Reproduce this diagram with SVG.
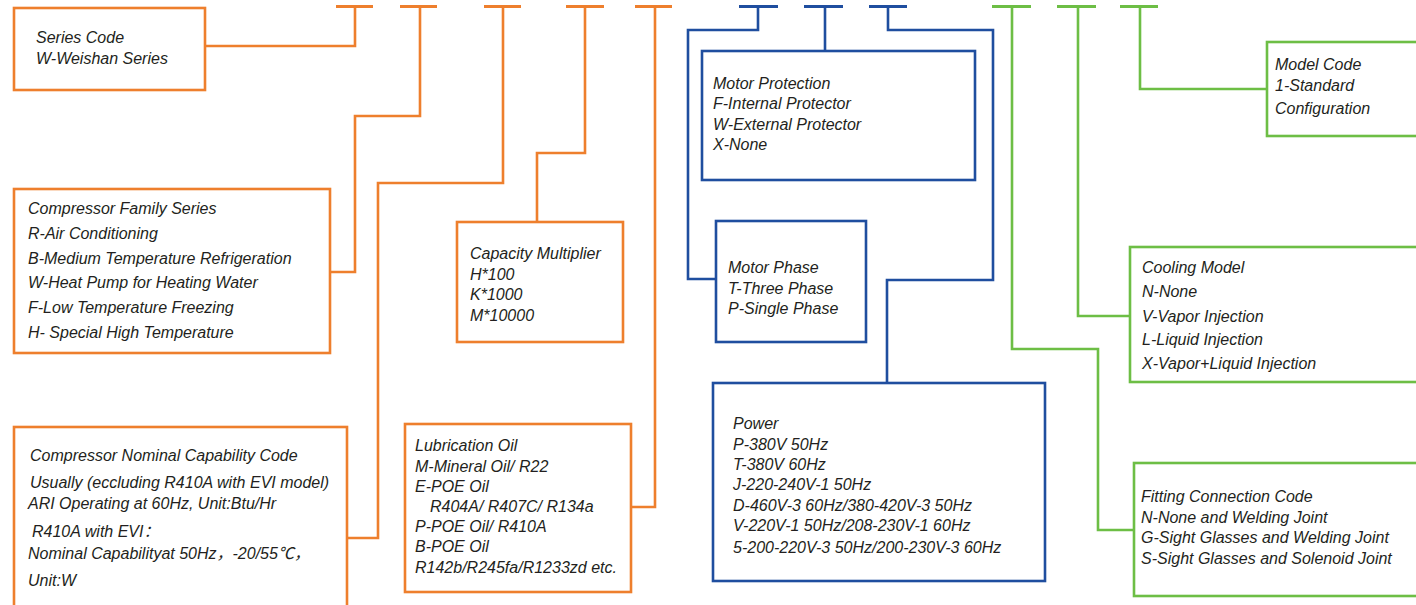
<svg xmlns="http://www.w3.org/2000/svg" width="1416" height="605" viewBox="0 0 1416 605">
<style>
.bg{fill:#ffffff}
.o{stroke:#EE7F2D}
.b{stroke:#1F4E9F}
.g{stroke:#6DBE45}
.box{fill:#ffffff;stroke-width:2.6}
.ln{fill:none;stroke-width:2.6;stroke-linejoin:miter}
.tk{fill:none;stroke-width:3}
text{font-family:"Liberation Sans",Arial,"Noto Sans CJK SC",sans-serif;font-style:italic;font-size:16px;fill:#231F20}
</style>
<rect class="bg" x="0" y="0" width="1416" height="605"/>
<g id="connectors">
  <path class="tk o" d="M336,6.5H373M400,6.5H437M484,6.5H521M566,6.5H604M635,6.5H672"/>
  <path class="tk b" d="M739,6.5H778M804,6.5H843M869,6.5H907"/>
  <path class="tk g" d="M992,6.5H1031M1057,6.5H1096M1120,6.5H1158"/>
  <path class="ln o" d="M205,46H355V6.5"/>
  <path class="ln o" d="M420,6.5V116H355V272H330"/>
  <path class="ln o" d="M503,6.5V183H378V538H347"/>
  <path class="ln o" d="M585,6.5V153H537V221"/>
  <path class="ln o" d="M655,6.5V507H631"/>
  <path class="ln b" d="M758,6.5V30H688V279H716"/>
  <path class="ln b" d="M825,6.5V51"/>
  <path class="ln b" d="M888,6.5V30H993V280H887V383"/>
  <path class="ln g" d="M1012,6.5V349H1098V530H1134"/>
  <path class="ln g" d="M1078,6.5V316H1130"/>
  <path class="ln g" d="M1140,6.5V89H1267"/>
</g>
<g id="series-code">
  <rect class="box o" x="14" y="8" width="191" height="82"/>
  <text x="36" y="42.5">Series Code</text>
  <text x="36" y="63.5">W-Weishan Series</text>
</g>
<g id="compressor-family">
  <rect class="box o" x="14" y="189" width="316" height="164"/>
  <text x="28" y="213.5">Compressor Family Series</text>
  <text x="28" y="238.5">R-Air Conditioning</text>
  <text x="28" y="263.5">B-Medium Temperature Refrigeration</text>
  <text x="28" y="287.5">W-Heat Pump for Heating Water</text>
  <text x="28" y="312.5">F-Low Temperature Freezing</text>
  <text x="28" y="337.5">H- Special High Temperature</text>
</g>
<g id="nominal-capability">
  <rect class="box o" x="14" y="427" width="333" height="190"/>
  <text x="30" y="460.5">Compressor Nominal Capability Code</text>
  <text x="30" y="487.5">Usually (eccluding R410A with EVI model)</text>
  <text x="28" y="508.5">ARI Operating at 60Hz, Unit:Btu/Hr</text>
  <text x="32" y="536.5">R410A with EVI：</text>
  <text x="28" y="558.5">Nominal Capabilityat 50Hz，-20/55℃，</text>
  <text x="28" y="585.5">Unit:W</text>
</g>
<g id="capacity-multiplier">
  <rect class="box o" x="457" y="222" width="166" height="120"/>
  <text x="470" y="258.5">Capacity Multiplier</text>
  <text x="470" y="279.5">H*100</text>
  <text x="470" y="299.5">K*1000</text>
  <text x="470" y="320.5">M*10000</text>
</g>
<g id="lubrication-oil">
  <rect class="box o" x="405" y="424" width="226" height="168"/>
  <text x="415" y="450.5">Lubrication Oil</text>
  <text x="415" y="471.5">M-Mineral Oil/ R22</text>
  <text x="415" y="491.5">E-POE Oil</text>
  <text x="430" y="511.5">R404A/ R407C/ R134a</text>
  <text x="415" y="531.5">P-POE Oil/ R410A</text>
  <text x="415" y="551.5">B-POE Oil</text>
  <text x="415" y="572.5">R142b/R245fa/R1233zd etc.</text>
</g>
<g id="motor-protection">
  <rect class="box b" x="702" y="51" width="273" height="129"/>
  <text x="713" y="88.5">Motor Protection</text>
  <text x="713" y="108.5">F-Internal Protector</text>
  <text x="713" y="129.5">W-External Protector</text>
  <text x="713" y="149.5">X-None</text>
</g>
<g id="motor-phase">
  <rect class="box b" x="716" y="221" width="150" height="121"/>
  <text x="728" y="272.5">Motor Phase</text>
  <text x="728" y="293.5">T-Three Phase</text>
  <text x="728" y="313.5">P-Single Phase</text>
</g>
<g id="power">
  <rect class="box b" x="713" y="383" width="332" height="198"/>
  <text x="733" y="428.5">Power</text>
  <text x="733" y="449.5">P-380V 50Hz</text>
  <text x="733" y="469.5">T-380V 60Hz</text>
  <text x="733" y="489.5">J-220-240V-1 50Hz</text>
  <text x="733" y="510.5">D-460V-3 60Hz/380-420V-3 50Hz</text>
  <text x="733" y="530.5">V-220V-1 50Hz/208-230V-1 60Hz</text>
  <text x="733" y="552.5">5-200-220V-3 50Hz/200-230V-3 60Hz</text>
</g>
<g id="model-code">
  <rect class="box g" x="1267" y="42" width="160" height="94"/>
  <text x="1275" y="69.5">Model Code</text>
  <text x="1275" y="90.5">1-Standard</text>
  <text x="1275" y="113.5">Configuration</text>
</g>
<g id="cooling-model">
  <rect class="box g" x="1130" y="247" width="300" height="135"/>
  <text x="1142" y="272.5">Cooling Model</text>
  <text x="1142" y="296.5">N-None</text>
  <text x="1142" y="321.5">V-Vapor Injection</text>
  <text x="1142" y="344.5">L-Liquid Injection</text>
  <text x="1142" y="368.5">X-Vapor+Liquid Injection</text>
</g>
<g id="fitting-connection">
  <rect class="box g" x="1134" y="463" width="300" height="133"/>
  <text x="1141" y="501.5">Fitting Connection Code</text>
  <text x="1141" y="522.5">N-None and Welding Joint</text>
  <text x="1141" y="542.5">G-Sight Glasses and Welding Joint</text>
  <text x="1141" y="563.5">S-Sight Glasses and Solenoid Joint</text>
</g>
</svg>
